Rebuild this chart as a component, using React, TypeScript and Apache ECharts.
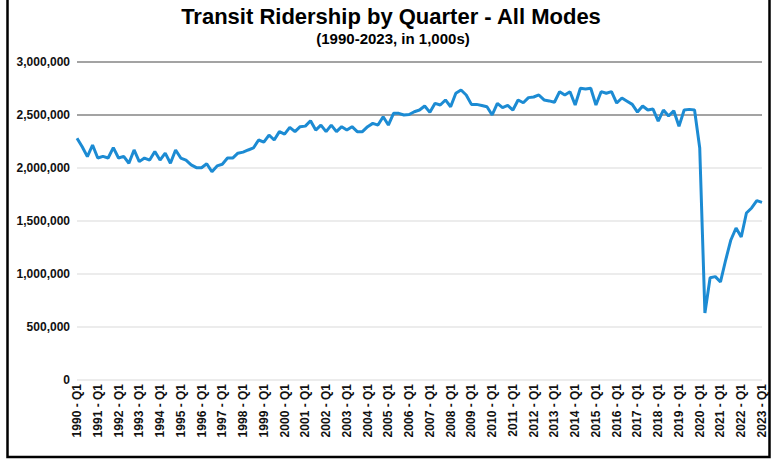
import React, { useEffect, useRef } from "react";
import * as echarts from "echarts";

const years: number[] = [];
for (let y = 1990; y <= 2023; y++) years.push(y);
const quarters = ["Q1", "Q2", "Q3", "Q4"];

const ridership1990s = [
  2280000, 2200000, 2107000, 2217000,
  2094000, 2110000, 2094000, 2192000,
  2094000, 2110000, 2045000, 2170000,
  2060000, 2094000, 2075000, 2155000,
  2075000, 2140000, 2045000, 2170000,
  2094000, 2075000, 2030000, 2003000,
  2003000, 2040000, 1965000, 2020000,
  2035000, 2094000, 2094000, 2140000,
  2150000, 2170000, 2189000, 2264000,
  2245000, 2311000, 2264000, 2343000,
];
const ridership2000s = [
  2320000, 2383000, 2343000, 2390000,
  2395000, 2446000, 2358000, 2405000,
  2343000, 2405000, 2343000, 2390000,
  2358000, 2390000, 2343000, 2343000,
  2390000, 2421000, 2405000, 2484000,
  2405000, 2516000, 2516000, 2500000,
  2505000, 2531000, 2547000, 2585000,
  2525000, 2610000, 2594000, 2642000,
  2578000, 2705000, 2736000, 2689000,
  2600000, 2600000, 2590000, 2578000,
];
const ridership2010s = [
  2500000, 2610000, 2570000, 2590000,
  2547000, 2642000, 2615000, 2664000,
  2670000, 2689000, 2642000, 2633000,
  2620000, 2720000, 2689000, 2720000,
  2594000, 2752000, 2745000, 2752000,
  2594000, 2720000, 2705000, 2720000,
  2613000, 2660000, 2630000, 2600000,
  2528000, 2585000, 2547000, 2556000,
  2443000, 2547000, 2490000, 2540000,
  2393000, 2547000, 2553000, 2547000,
];
const ridership2020s = [
  2189000, 632000, 965000, 975000,
  925000, 1132000, 1321000, 1434000,
  1349000, 1575000, 1623000, 1692000,
  1676000,
];

const ridership = [...ridership1990s, ...ridership2000s, ...ridership2010s, ...ridership2020s];

const categories: string[] = [];
years.forEach((y) => quarters.forEach((q) => categories.push(`${y} - ${q}`)));
categories.length = ridership.length;

const titleText = "Transit Ridership by Quarter - All Modes";
const subtitleText = "(1990-2023, in 1,000s)";

export default function App() {
  const ref = useRef<HTMLDivElement>(null);
  useEffect(() => {
    if (!ref.current) return;
    const chart = echarts.init(ref.current, null, { renderer: "svg" });
    const font = "'Liberation Sans', Arial, sans-serif";
    chart.setOption({
      animation: false,
      backgroundColor: "#ffffff",
      grid: { left: 77, right: 11, top: 62, bottom: 83 },
      xAxis: {
        type: "category",
        data: categories,
        boundaryGap: false,
        axisLine: { show: false },
        axisTick: { show: false },
        axisLabel: {
          interval: 3,
          rotate: 90,
          fontSize: 12,
          fontWeight: "bold",
          fontFamily: font,
          color: "#111",
          margin: 4,
        },
      },
      yAxis: {
        type: "value",
        min: 0,
        max: 3000000,
        interval: 500000,
        axisLine: { show: false },
        axisTick: { show: false },
        axisLabel: {
          fontSize: 12,
          fontWeight: "bold",
          fontFamily: font,
          color: "#111",
          margin: 7,
          formatter: (v: number) => v.toLocaleString("en-US"),
        },
        splitLine: {
          lineStyle: {
            color: ["#ececec", "#ececec", "#ececec", "#ececec", "#ececec", "#a3a3a3", "#a3a3a3"],
            width: 2,
          },
        },
      },
      series: [
        {
          type: "line",
          data: ridership,
          symbol: "none",
          showSymbol: false,
          lineStyle: { color: "#1c8bd3", width: 3 },
          itemStyle: { color: "#1c8bd3" },
        },
      ],
      graphic: [
        {
          type: "text",
          x: 391,
          y: 16,
          style: {
            text: titleText,
            font: `bold 22px ${font}`,
            fill: "#000",
            align: "center",
            verticalAlign: "middle",
            textAlign: "center",
            textVerticalAlign: "middle",
          },
        },
        {
          type: "text",
          x: 393,
          y: 38,
          style: {
            text: subtitleText,
            font: `bold 15px ${font}`,
            fill: "#000",
            align: "center",
            verticalAlign: "middle",
            textAlign: "center",
            textVerticalAlign: "middle",
          },
        },
        {
          type: "rect",
          shape: { x: 7.5, y: -5, width: 762, height: 462 },
          style: { fill: "none", stroke: "#000", lineWidth: 2.5 },
          z: 100,
        },
      ],
    });
    return () => chart.dispose();
  }, []);
  return (
    <div
      ref={ref}
      style={{ position: "fixed", left: 0, top: 0, width: 773, height: 463 }}
    />
  );
}
